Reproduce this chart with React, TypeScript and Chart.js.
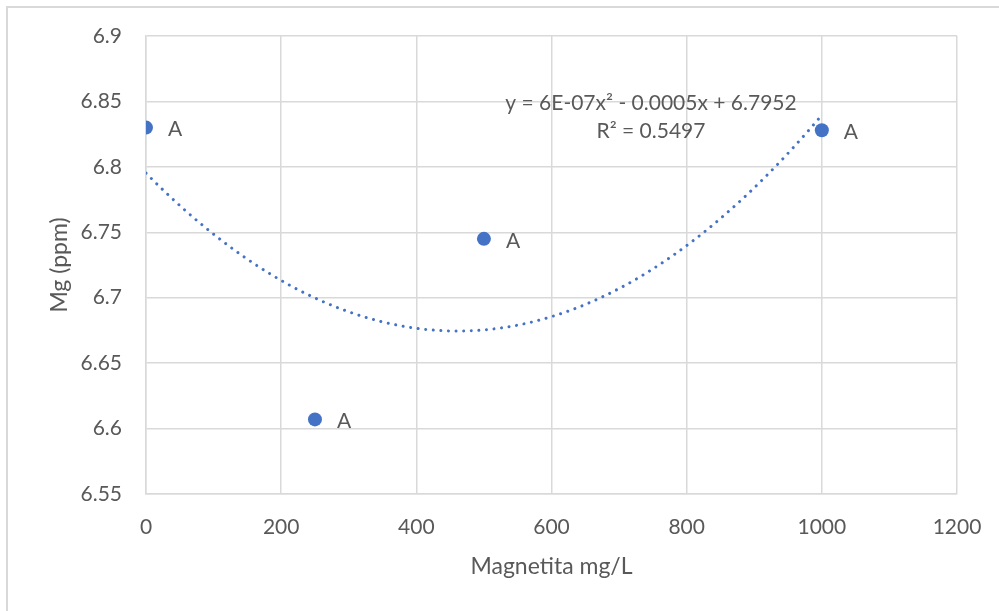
import React, { useEffect, useRef } from "react";
import { Chart, registerables } from "chart.js";

Chart.register(...registerables);

const xValues = [0, 250, 500, 1000];
const yValues = [6.83, 6.607, 6.745, 6.828];
const pointLabels = ["A", "A", "A", "A"];
const xTickValues = [0, 200, 400, 600, 800, 1000, 1200];
const yTickValues = [6.55, 6.6, 6.65, 6.7, 6.75, 6.8, 6.85, 6.9];
const equationLines = ["y = 6E-07x² - 0.0005x + 6.7952", "R² = 0.5497"];
const xTitle = "Magnetita mg/L";
const yTitle = "Mg (ppm)";

const FONT = "Lato, 'Open Sans', sans-serif";
const TEXT = "#595959";
const BLUE = "#4472C4";
const GRID = "#d9d9d9";

// least-squares quadratic fit (Excel polynomial trendline, order 2)
function quadFit(xs: number[], ys: number[]) {
  const S = (p: number) => xs.reduce((a, x) => a + Math.pow(x, p), 0);
  const T = (p: number) => xs.reduce((a, x, i) => a + Math.pow(x, p) * ys[i], 0);
  const M = [
    [S(0), S(1), S(2), T(0)],
    [S(1), S(2), S(3), T(1)],
    [S(2), S(3), S(4), T(2)],
  ];
  for (let i = 0; i < 3; i++) {
    for (let k = i + 1; k < 3; k++) {
      const f = M[k][i] / M[i][i];
      for (let j = i; j < 4; j++) M[k][j] -= f * M[i][j];
    }
  }
  const c = [0, 0, 0];
  for (let i = 2; i >= 0; i--) {
    let s = M[i][3];
    for (let j = i + 1; j < 3; j++) s -= M[i][j] * c[j];
    c[i] = s / M[i][i];
  }
  return c;
}

const coef = quadFit(xValues, yValues);
const xMin = Math.min(...xValues);
const xMax = Math.max(...xValues);
const trendPoints: { x: number; y: number }[] = [];
for (let i = 0; i <= 200; i++) {
  const x = xMin + ((xMax - xMin) * i) / 200;
  trendPoints.push({ x, y: coef[0] + coef[1] * x + coef[2] * x * x });
}

const decorPlugin = {
  id: "decor",
  beforeDraw(chart: any) {
    const ctx = chart.ctx;
    ctx.save();
    ctx.fillStyle = "#ffffff";
    ctx.fillRect(0, 0, chart.width, chart.height);
    ctx.fillStyle = GRID;
    ctx.fillRect(6, 6, 2, chart.height - 6);
    ctx.fillRect(6, 6, chart.width - 6, 2);
    ctx.restore();
  },
  afterDatasetsDraw(chart: any) {
    const ctx = chart.ctx;
    ctx.save();
    ctx.fillStyle = TEXT;
    ctx.font = `21px ${FONT}`;
    ctx.textAlign = "left";
    ctx.textBaseline = "middle";
    const meta = chart.getDatasetMeta(1);
    meta.data.forEach((el: any, i: number) => {
      ctx.fillText(pointLabels[i], el.x + 22, el.y + 2);
    });
    ctx.textAlign = "center";
    equationLines.forEach((line, i) => {
      ctx.fillText(line, 651, 103 + i * 28);
    });
    ctx.restore();
  },
};

export default function App() {
  const ref = useRef<HTMLCanvasElement | null>(null);
  useEffect(() => {
    if (!ref.current) return;
    const chart = new Chart(ref.current, {
      type: "scatter",
      data: {
        datasets: [
          {
            type: "line",
            label: "trend",
            data: trendPoints,
            borderColor: BLUE,
            borderWidth: 3,
            borderDash: [0.001, 7.6],
            borderCapStyle: "round",
            pointRadius: 0,
            fill: false,
            tension: 0,
          } as any,
          {
            label: "Mg",
            data: xValues.map((x, i) => ({ x, y: yValues[i] })),
            backgroundColor: BLUE,
            borderColor: BLUE,
            borderWidth: 0,
            pointRadius: 7,
          },
        ],
      },
      options: {
        animation: false,
        responsive: false,
        maintainAspectRatio: false,
        devicePixelRatio: 1,
        layout: { padding: { top: 36, right: 42, left: 0, bottom: 0 } },
        plugins: {
          legend: { display: false },
          tooltip: { enabled: false },
        },
        scales: {
          x: {
            type: "linear",
            min: 0,
            max: 1200,
            afterBuildTicks: (s: any) => {
              s.ticks = xTickValues.map((v) => ({ value: v }));
            },
            afterFit: (s: any) => {
              s.height = 117;
              s.paddingLeft = 0;
              s.paddingRight = 0;
            },
            ticks: {
              color: TEXT,
              font: { family: FONT, size: 21 },
              padding: 21,
              maxRotation: 0,
              callback: (v: any) => String(v),
            },
            grid: { color: GRID, lineWidth: 1.5, drawTicks: false },
            border: { color: GRID, width: 1.5 },
            title: {
              display: true,
              text: xTitle,
              color: TEXT,
              font: { family: FONT, size: 23 },
              padding: { top: 0, bottom: 31 },
            },
          },
          y: {
            type: "linear",
            min: 6.55,
            max: 6.9,
            afterBuildTicks: (s: any) => {
              s.ticks = yTickValues.map((v) => ({ value: v }));
            },
            afterFit: (s: any) => {
              s.width = 146;
              s.paddingTop = 0;
              s.paddingBottom = 0;
            },
            ticks: {
              color: TEXT,
              font: { family: FONT, size: 21 },
              padding: 24,
              callback: (v: any) => String(Number(v)),
            },
            grid: { color: GRID, lineWidth: 1.5, drawTicks: false },
            border: { color: GRID, width: 1.5 },
            title: {
              display: true,
              text: yTitle,
              color: TEXT,
              font: { family: FONT, size: 23 },
              padding: { top: 46, bottom: 0 },
            },
          },
        },
      },
      plugins: [decorPlugin],
    });
    return () => chart.destroy();
  }, []);
  return (
    <div style={{ position: "absolute", left: 0, top: 0, width: 999, height: 611 }}>
      <canvas ref={ref} width={999} height={611} />
    </div>
  );
}
